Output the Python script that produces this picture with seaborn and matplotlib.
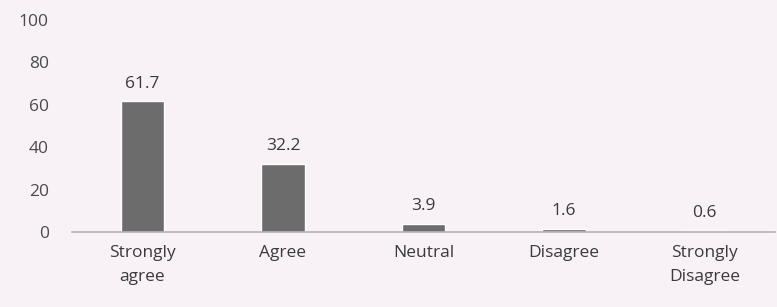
import matplotlib
matplotlib.use("Agg")
import matplotlib.pyplot as plt
import seaborn as sns
import pandas as pd

# --- DATA ---
categories = ["Strongly\nagree", "Agree", "Neutral", "Disagree", "Strongly\nDisagree"]
percent = [61.7, 32.2, 3.9, 1.6, 0.6]
yticks = [0, 20, 40, 60, 80, 100]
# ------------

BG = "#f8f2f7"
sns.set_theme(style="white")
plt.rcParams["font.family"] = ["Open Sans", "DejaVu Sans"]

df = pd.DataFrame({"cat": categories, "pct": percent})

fig = plt.figure(figsize=(7.77, 3.07), dpi=100, facecolor=BG)
ax = fig.add_axes([0.093, 0.244, 0.904, 0.691], facecolor=BG)

sns.barplot(data=df, x="cat", y="pct", color="#6c6c6c", saturation=1,
            width=0.31, ax=ax)

for i, v in enumerate(percent):
    ax.text(i, v + 4.5, f"{v:.1f}", ha="center", va="bottom",
            fontsize=12.5, color="#3a3a3a")

ax.set_ylim(0, 100)
ax.set_xlim(-0.5, 4.5)
ax.set_yticks(yticks)
ax.set_xlabel("")
ax.set_ylabel("")
ax.tick_params(axis="y", length=0, labelsize=12.5, labelcolor="#4a4a4a", pad=17)
ax.tick_params(axis="x", length=0, labelsize=12.5, labelcolor="#3a3a3a", pad=9)
for lbl in ax.get_xticklabels():
    lbl.set_linespacing(1.7)
for s in ["top", "right", "left"]:
    ax.spines[s].set_visible(False)
ax.spines["bottom"].set_color("#b5b0b5")
ax.spines["bottom"].set_linewidth(1.2)

fig.savefig("out.png", dpi=100, facecolor=BG)
